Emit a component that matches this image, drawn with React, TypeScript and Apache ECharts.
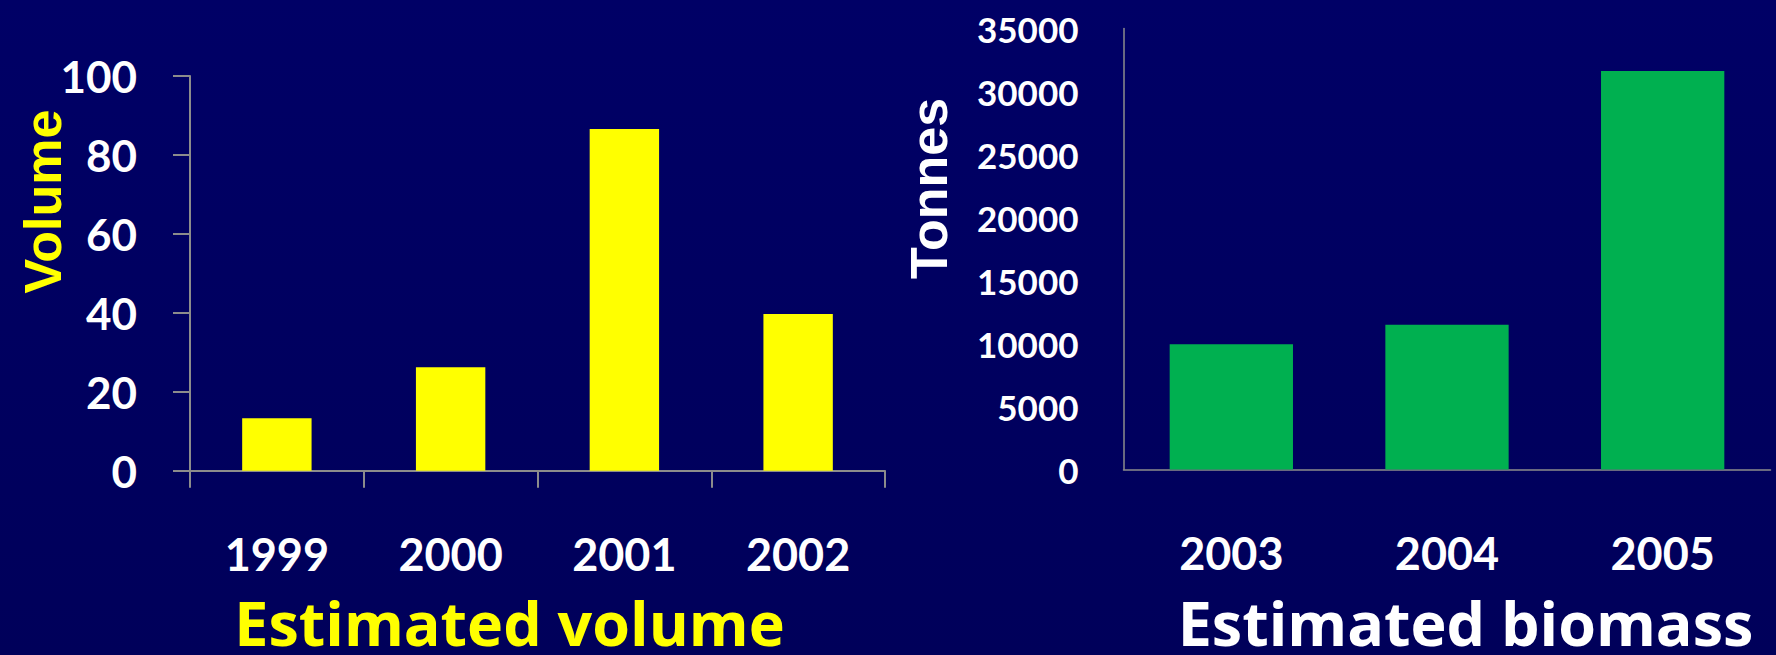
import React, { useEffect, useRef } from "react";
import * as echarts from "echarts";

const volumeYears = ["1999", "2000", "2001", "2002"];
const volumeValues = [13.3, 26.2, 86.6, 39.7];
const volumeTicks = { min: 0, max: 100, interval: 20 };

const biomassYears = ["2003", "2004", "2005"];
const biomassValues = [9950, 11480, 31620];
const biomassTicks = { min: 0, max: 35000, interval: 5000 };

const leftTitle = "Estimated volume";
const rightTitle = "Estimated biomass";
const leftAxisName = "Volume";
const rightAxisName = "Tonnes";

const LABEL_FONT = "Lato, 'Open Sans', sans-serif";
const TITLE_FONT = "'Open Sans', Lato, sans-serif";
const NAME_FONT = "'Liberation Sans', Arial, sans-serif";

export default function App() {
  const ref = useRef<HTMLDivElement>(null);
  useEffect(() => {
    if (!ref.current) return;
    const chart = echarts.init(ref.current, undefined, { renderer: "svg" });
    const axisGray = "#8c8c8c";
    const bigLabel = {
      color: "#ffffff",
      fontSize: 45,
      fontWeight: "bold" as const,
      fontFamily: LABEL_FONT,
    };
    chart.setOption({
      animation: false,
      backgroundColor: new echarts.graphic.LinearGradient(0, 0, 0, 1, [
        { offset: 0, color: "#000066" },
        { offset: 1, color: "#00005a" },
      ]),
      grid: [
        { left: 190, top: 76, width: 695, height: 394.8, containLabel: false },
        { left: 1123.5, top: 28.5, width: 647, height: 441, containLabel: false },
      ],
      xAxis: [
        {
          type: "category",
          gridIndex: 0,
          data: volumeYears,
          axisLine: { show: true, lineStyle: { color: axisGray, width: 2 } },
          axisTick: { show: true, length: 17, lineStyle: { color: axisGray, width: 2 } },
          axisLabel: { ...bigLabel, margin: 61 },
          splitLine: { show: false },
        },
        {
          type: "category",
          gridIndex: 1,
          data: biomassYears,
          axisLine: { show: true, lineStyle: { color: axisGray, width: 1.5 } },
          axisTick: { show: false },
          axisLabel: { ...bigLabel, margin: 61 },
          splitLine: { show: false },
        },
      ],
      yAxis: [
        {
          type: "value",
          gridIndex: 0,
          ...volumeTicks,
          axisLine: { show: true, lineStyle: { color: axisGray, width: 2 } },
          axisTick: { show: true, length: 17, lineStyle: { color: axisGray, width: 2 } },
          axisLabel: { ...bigLabel, fontSize: 44, margin: 53 },
          splitLine: { show: false },
        },
        {
          type: "value",
          gridIndex: 1,
          ...biomassTicks,
          axisLine: { show: true, lineStyle: { color: axisGray, width: 1.5 } },
          axisTick: { show: false },
          axisLabel: {
            ...bigLabel,
            fontSize: 35,
            margin: 45,
            formatter: (v: number) => String(v),
          },
          splitLine: { show: false },
        },
      ],
      series: [
        {
          type: "bar",
          xAxisIndex: 0,
          yAxisIndex: 0,
          data: volumeValues,
          barWidth: 69.4,
          itemStyle: { color: "#ffff00" },
        },
        {
          type: "bar",
          xAxisIndex: 1,
          yAxisIndex: 1,
          data: biomassValues,
          barWidth: 123.3,
          itemStyle: { color: "#00b050" },
        },
      ],
      graphic: [
        {
          type: "text",
          x: 43,
          y: 201.5,
          rotation: Math.PI / 2,
          style: {
            text: leftAxisName,
            fill: "#ffff00",
            font: `bold 52px ${NAME_FONT}`,
            textAlign: "center",
            textVerticalAlign: "middle",
          },
        },
        {
          type: "text",
          x: 929,
          y: 188.4,
          rotation: Math.PI / 2,
          style: {
            text: rightAxisName,
            fill: "#ffffff",
            font: `bold 52px ${NAME_FONT}`,
            textAlign: "center",
            textVerticalAlign: "middle",
          },
        },
        {
          type: "text",
          x: 509.5,
          y: 622,
          style: {
            text: leftTitle,
            fill: "#ffff00",
            font: `bold 61px ${TITLE_FONT}`,
            lineHeight: 60,
            textAlign: "center",
            textVerticalAlign: "middle",
          },
        },
        {
          type: "text",
          x: 1465.5,
          y: 622,
          style: {
            text: rightTitle,
            fill: "#ffffff",
            font: `bold 61px ${TITLE_FONT}`,
            lineHeight: 60,
            textAlign: "center",
            textVerticalAlign: "middle",
          },
        },
      ],
    });
    return () => chart.dispose();
  }, []);
  return (
    <div
      ref={ref}
      style={{ position: "fixed", left: 0, top: 0, width: 1776, height: 655 }}
    />
  );
}
